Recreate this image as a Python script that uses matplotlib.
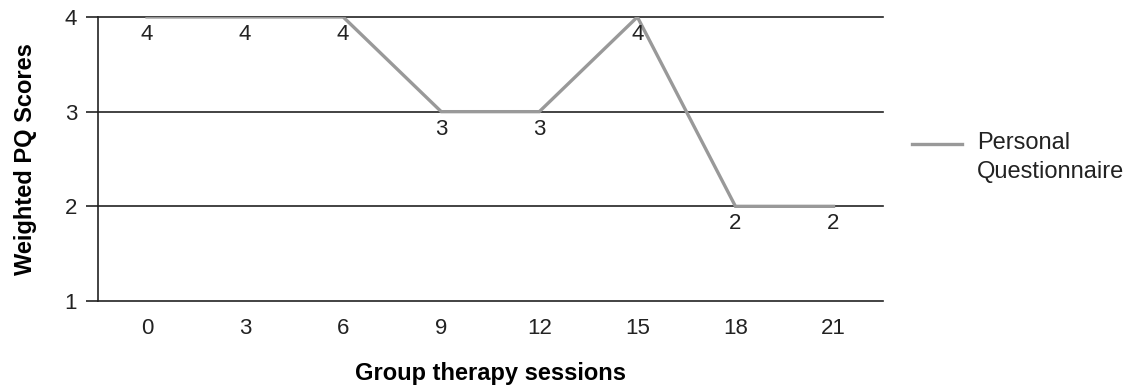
import matplotlib
matplotlib.use('Agg')

import matplotlib.pyplot as plt
from matplotlib.lines import Line2D

# sessions and weighted scores
sessions = ['0', '3', '6', '9', '12', '15', '18', '21']
scores = [4, 4, 4, 3, 3, 4, 2, 2]
series_name = 'Personal\nQuestionnaire'

plt.rcParams['font.family'] = ['Liberation Sans', 'DejaVu Sans']

line_col = '#999999'
ink = '#222222'

fig = plt.figure(figsize=(11.37, 3.86), dpi=100)
ax = fig.add_axes([0.0862, 0.2202, 0.690, 0.7358])

x = list(range(len(sessions)))
ax.plot(x, scores, color=line_col, lw=2.4, solid_joinstyle='miter', zorder=3)

# value labels below each point
for xi, v in zip(x, scores):
    ax.annotate(str(v), (xi, v), xytext=(0, -5), textcoords='offset points',
                ha='center', va='top', fontsize=16, color=ink)

ax.set_xlim(-0.5, len(sessions) - 0.5)
ax.set_ylim(1, 4)
ax.set_xticks(x)
ax.set_xticklabels(sessions)
ax.set_yticks([1, 2, 3, 4])

# horizontal grid lines at each score level
for g in [2, 3, 4]:
    ax.axhline(g, color=ink, lw=1.2, zorder=1, clip_on=False)

for s in ['top', 'right']:
    ax.spines[s].set_visible(False)
for s in ['left', 'bottom']:
    ax.spines[s].set_color(ink)
    ax.spines[s].set_linewidth(1.2)

ax.tick_params(axis='x', length=0, pad=12, labelsize=16, colors=ink)
ax.tick_params(axis='y', length=9, width=1.2, pad=6, labelsize=16, colors=ink)

ax.set_ylabel('Weighted PQ Scores', fontsize=17, fontweight='bold', labelpad=20)
ax.set_xlabel('Group therapy sessions', fontsize=17, fontweight='bold', labelpad=17)

# legend drawn by hand so the swatch sits on the first text line
fig.add_artist(Line2D([0.802, 0.846], [0.627, 0.627], color=line_col, lw=2.4,
                      transform=fig.transFigure))
fig.text(0.859, 0.657, series_name, fontsize=17, va='top', ha='left',
         color=ink, linespacing=1.4)

fig.savefig('out.png', dpi=100)
